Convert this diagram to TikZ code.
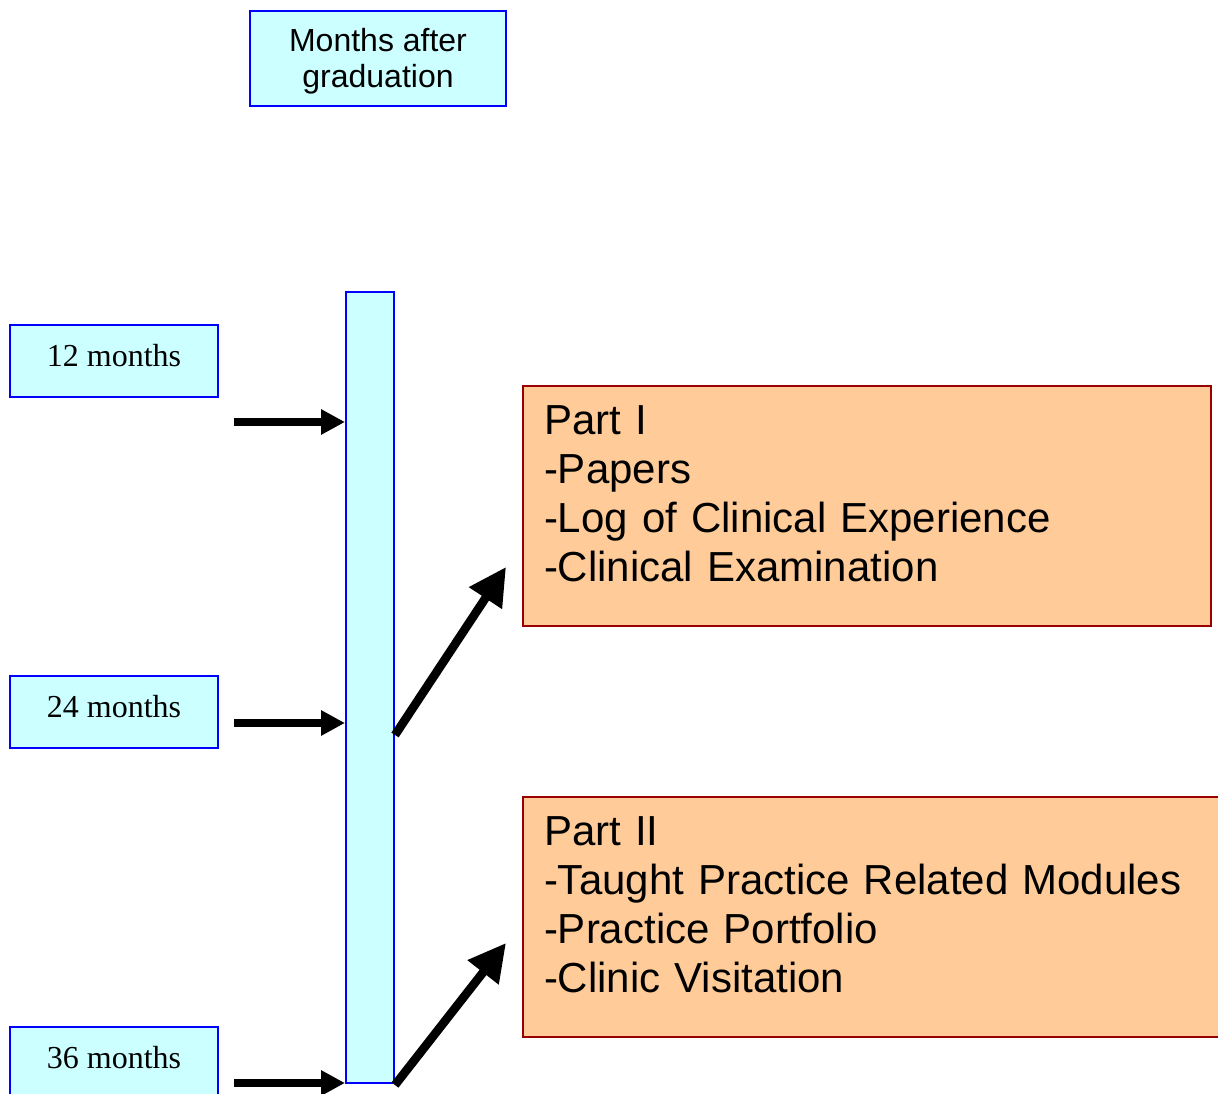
\documentclass[tikz,border=0pt]{standalone}
\usepackage{fontspec}
\setmainfont{Liberation Sans}
\newfontfamily\timesfont{Liberation Serif}
\usetikzlibrary{arrows.meta}
\definecolor{paleCyan}{HTML}{CCFFFF}
\definecolor{paleOrange}{HTML}{FFCC99}
\definecolor{darkRed}{HTML}{990000}
\begin{document}
\begin{tikzpicture}[x=0.75pt,y=-0.75pt]
    \tikzstyle{cyan box}=[draw=blue,fill=paleCyan,line width=1.5pt,inner sep=0pt]
    \tikzstyle{month box}=[cyan box,minimum width=156pt,minimum height=54pt,font=\timesfont\fontsize{24}{28}\selectfont,text depth=9pt]
    \tikzstyle{part box}=[draw=darkRed,fill=paleOrange,line width=1.5pt,inner xsep=15.75pt,inner ysep=0pt,minimum height=180pt,align=left,font=\fontsize{31.5}{36.75}\selectfont,text depth=129pt,anchor=west]
    \tikzstyle{step arrow}=[line width=6pt,-{Triangle[length=18pt,width=18pt]}]
    \tikzstyle{part arrow}=[line width=6.5pt,-{Triangle[length=28pt,width=28pt]}]
    \useasboundingbox (0,0) rectangle (1218,1094);
    % title and time line
      \node[cyan box,minimum width=192pt,minimum height=71.25pt,align=center,font=\fontsize{24}{27.6}\selectfont,text depth=1pt] (title) at (378,58.5) {Months after\\graduation};
      \node[cyan box,minimum width=36pt,minimum height=593.25pt] (timeline) at (370,687.5) {};
    % months
      \node[month box] (m12) at (114,361) {12 months};
      \node[month box] (m24) at (114,712) {24 months};
      \node[month box] (m36) at (114,1063) {36 months};
    % parts
      \node[part box,text width=484.5pt] (part1) at (522,506) {Part I\\-Papers\\-Log of Clinical Experience\\-Clinical Examination};
      \node[part box,text width=507pt] (part2) at (522,917) {Part II\\-Taught Practice Related Modules\\-Practice Portfolio\\-Clinic Visitation};
    % arrows
      \coordinate (a12) at (234,422);
      \coordinate (a24) at (234,723);
      \coordinate (a36) at (234,1083);
      \coordinate (p1s) at (394,735);
      \coordinate (p1e) at (506,567);
      \coordinate (p2s) at (394,1085);
      \coordinate (p2e) at (506,943);
      \draw[step arrow] (a12) -- (timeline.west |- a12);
      \draw[step arrow] (a24) -- (timeline.west |- a24);
      \draw[step arrow] (a36) -- (timeline.west |- a36);
      \draw[part arrow] (timeline.east |- p1s) -- (p1e);
      \draw[part arrow] (timeline.east |- p2s) -- (p2e);
\end{tikzpicture}
\end{document}
